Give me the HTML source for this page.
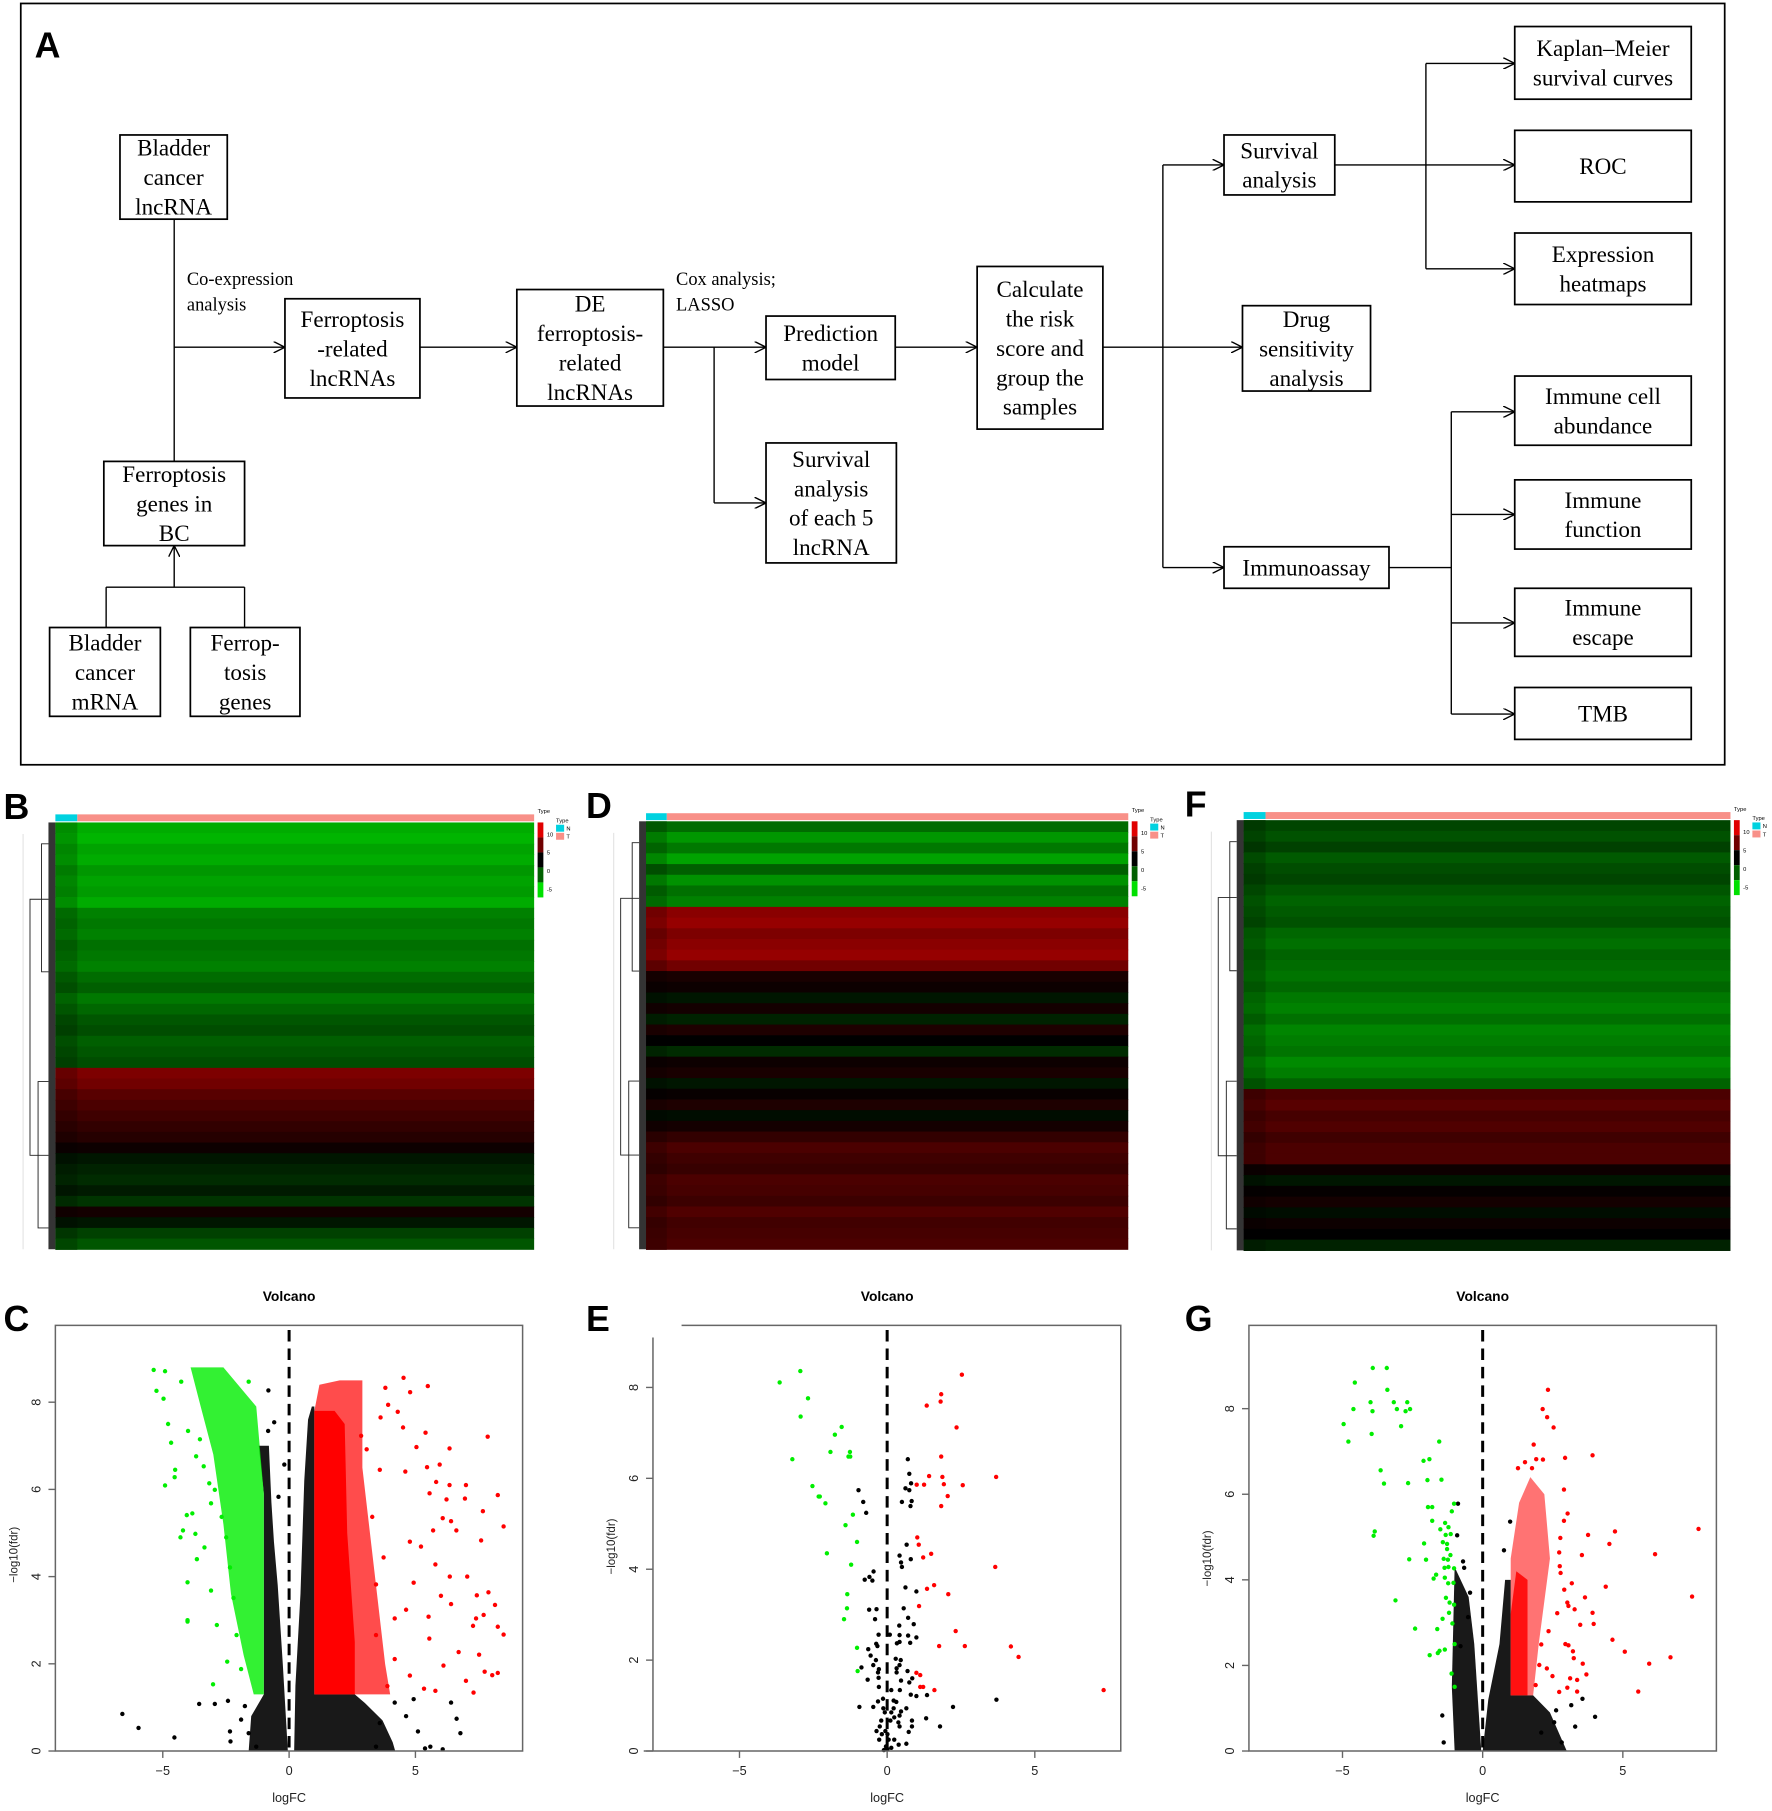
<!DOCTYPE html>
<html><head><meta charset="utf-8">
<style>
html,body{margin:0;padding:0;background:#fff;}
svg{display:block;}
</style></head>
<body>
<svg id="fig" xmlns="http://www.w3.org/2000/svg" width="1772" height="1811" viewBox="0 0 1536 1570" preserveAspectRatio="none">
<defs>
<marker id="arr" viewBox="0 0 10 10" refX="10" refY="5" markerWidth="10" markerHeight="10" markerUnits="userSpaceOnUse" orient="auto">
<path d="M0,0 L10,5 L0,10" fill="none" stroke="#000" stroke-width="1.2"/>
</marker>
</defs>
<rect x="0" y="0" width="1536" height="1570" fill="#fff"/>
<g id="panelA">
<rect x="18" y="3" width="1477" height="660" fill="none" stroke="#000" stroke-width="1.5"/>
</g>
<g id="heat"></g>
<g id="volc"></g>
</svg>
<script>
// ---------- Heatmap data (row mean expression, top to bottom) ----------
const heatB = [-4,-4.2,-3.8,-4,-3.5,-3.8,-3.6,-4,-3,-2.8,-3,-2.6,-2.8,-3,-2.5,-2.2,-2.8,-2.4,-2,-1.8,-2.2,-2,-1.8,5,4.5,3.5,3,2.5,2,1.5,0.5,-0.5,-0.8,-1,-0.6,-1.2,0.8,-0.5,-1.5,-2];
const heatD = [-2.5,-3.5,-2.8,-3.8,-2.2,-3.4,-2.6,-3,5.5,6,5,5.5,6,4.5,1,0.5,-0.5,0.8,-0.8,1.2,0,-1,0.5,1,-0.5,0.3,1.2,-0.3,0.8,2,3,2.5,2.2,3,2.8,2.4,3.2,2.6,2.8,3];
const heatF = [-1.6,-1.9,-1.5,-2.1,-1.8,-1.6,-2,-2.3,-2.1,-1.9,-2.4,-2.6,-2.3,-2.5,-2.7,-2.4,-2.8,-3,-2.6,-3.1,-2.9,-2.7,-3.2,-2.9,-2.3,3,3.5,2.8,3.2,2.5,3,3,0.5,-0.5,0.2,0.8,-0.3,0.5,0,-0.8];
const legendTicks = ["10","5","0","-5"];

// ---------- Volcano data: [logFC, -log10(fdr)] ----------
const cGreenCloud = [[-3.9,8.8],[-2.6,8.8],[-1.3,7.9],[-1.0,5.9],[-1.0,1.3],[-1.4,1.3],[-1.8,2.2],[-2.3,3.6],[-2.6,5.2],[-3.0,6.8],[-3.5,7.9]];
const cRedCore = [[1,7.8],[1,1.3],[2.6,1.3],[2.6,2.5],[2.3,5],[2.2,7.5],[1.8,7.8]];
const cRedCloud = [[1.0,7.8],[1.2,8.4],[2.0,8.5],[2.9,8.5],[2.9,6.5],[3.2,5.0],[3.5,3.5],[3.8,2.0],[4.0,1.3],[1.0,1.3]];
const cBlackLeft = [[-1.2,7.0],[-0.8,7.0],[-0.7,5.7],[-0.6,4.8],[-0.45,3.8],[-0.25,2.0],[-0.05,0],[-1.6,0],[-1.5,0.8],[-1.0,1.3],[-1.0,5.9]];
const cBlackRight = [[0.2,0],[0.25,1.5],[0.45,3.6],[0.6,6.2],[0.75,7.6],[0.9,7.9],[1.0,7.9],[1.0,1.3],[2.6,1.3],[3.0,1.1],[3.7,0.7],[4.1,0.2],[4.2,0]];
const cGreen = [[-5.36,8.74],[-4.91,8.71],[-5.25,8.26],[-4.97,8.08],[-4.79,7.5],[-4.67,7.07],[-4.51,6.45],[-4.53,6.28],[-4.91,6.09],[-4.05,5.41],[-3.83,5.45],[-4.2,5.06],[-3.71,4.98],[-4.3,4.9],[-3.65,4.4],[-3.35,4.67],[-4.02,3.87],[-3.09,3.68],[-4.02,3.0],[-4.02,2.97],[-3.01,1.53],[-2.45,2.05],[-2.86,2.89],[-4.0,7.34],[-3.68,6.76],[-3.38,6.53],[-3.16,6.14],[-2.94,5.99],[-2.67,5.37],[-2.49,4.9],[-2.34,4.21],[-2.2,3.51],[-2.08,2.66],[-1.9,1.88],[-3.09,5.68],[-3.53,7.15],[-4.27,8.47],[-1.6,8.47]];
const cRed = [[3.81,8.33],[4.53,8.56],[4.79,8.23],[5.49,8.37],[3.92,7.94],[4.3,7.78],[3.62,7.65],[4.51,7.42],[5.4,7.3],[7.86,7.21],[5.04,6.97],[6.35,6.94],[5.96,6.57],[5.46,6.51],[4.6,6.41],[5.82,6.17],[7.0,6.1],[6.35,6.1],[5.56,5.91],[8.26,5.87],[6.23,5.77],[6.96,5.79],[7.67,5.5],[6.08,5.34],[6.41,5.27],[8.49,5.15],[6.62,5.06],[5.7,5.06],[7.6,4.83],[4.78,4.8],[5.22,4.69],[5.79,4.28],[7.05,4.0],[6.36,4.0],[4.93,3.86],[7.89,3.64],[7.43,3.57],[6.01,3.56],[8.15,3.35],[4.63,3.24],[6.41,3.37],[5.52,3.08],[7.4,3.04],[7.7,3.12],[7.28,2.87],[8.26,2.85],[8.49,2.67],[5.55,2.58],[6.71,2.27],[7.52,2.21],[7.74,1.82],[8.26,1.79],[8.04,1.74],[7.0,1.61],[7.3,1.34],[6.11,1.96],[5.79,1.38],[5.34,1.43],[4.78,1.73],[4.18,2.11],[3.89,1.49],[3.44,2.66],[4.18,3.04],[3.29,5.37],[3.44,3.82],[2.85,7.23],[3.07,6.92],[3.59,6.45],[3.74,4.44]];
const cBlack = [[-6.6,0.85],[-5.96,0.53],[-4.54,0.31],[-3.56,1.08],[-2.94,1.08],[-2.42,1.15],[-2.34,0.45],[-2.32,0.22],[-0.82,8.27],[-0.59,7.54],[-0.83,7.34],[-0.19,6.57],[-0.42,5.83],[6.41,1.11],[6.63,0.74],[6.78,0.41],[6.08,0.04],[5.59,0.1],[4.93,1.19],[4.63,0.8],[5.1,0.45],[5.38,0.06],[4.18,1.11],[3.59,0.64],[3.44,0.1],[-1.75,1.03],[-1.9,0.72],[-1.6,0.41],[-1.3,0.1]];

const eGreen = [[-2.94,8.36],[-3.64,8.11],[-2.68,7.76],[-2.93,7.36],[-1.54,7.13],[-1.77,6.96],[-1.92,6.58],[-1.26,6.58],[-1.31,6.48],[-1.25,6.48],[-3.21,6.42],[-2.53,5.83],[-2.32,5.6],[-2.28,5.6],[-2.09,5.45],[-1.16,5.2],[-1.41,4.97],[-1.02,4.6],[-2.04,4.35],[-1.22,4.1],[-1.35,3.45],[-1.36,3.14],[-1.46,2.9],[-1.02,2.27],[-1.0,1.76]];
const eRed = [[2.53,8.28],[1.83,7.85],[1.81,7.69],[1.34,7.6],[2.35,7.12],[1.83,6.48],[1.42,6.05],[1.87,6.03],[3.69,6.03],[1.0,5.86],[1.25,5.86],[1.92,5.87],[2.56,5.85],[2.05,5.61],[1.83,5.39],[1.02,4.7],[1.07,4.54],[1.49,4.34],[1.22,4.26],[3.66,4.05],[1.59,3.65],[1.35,3.57],[2.07,3.45],[1.08,3.19],[2.32,2.64],[1.76,2.31],[2.63,2.31],[4.19,2.3],[4.45,2.07],[0.99,1.72],[1.12,1.67],[1.12,1.41],[1.22,1.41],[1.6,1.34],[7.33,1.34]];
const eBlack = [[-0.97,5.74],[-0.81,5.48],[-0.71,5.24],[0.7,6.42],[0.75,6.1],[0.81,5.89],[0.62,5.78],[0.75,5.74],[0.5,5.48],[0.83,5.5],[0.79,5.39],[0.66,4.54],[0.42,4.3],[0.8,4.22],[0.47,4.15],[0.5,4.05],[-0.46,3.95],[-0.6,3.83],[-0.76,3.77],[-0.5,3.75],[0.62,3.6],[0.99,3.51],[0.56,3.14],[-0.61,3.11],[-0.36,3.12],[-0.41,2.9],[0.71,2.93],[0.9,2.79],[0.41,2.76],[-0.29,2.56],[0.09,2.56],[0.42,2.55],[0.71,2.54],[0.99,2.5],[-0.37,2.36],[0.33,2.37],[0.42,2.4],[0.78,2.38],[-0.33,2.31],[-0.64,2.24],[-0.56,2.1],[-0.38,2.0],[0.29,2.03],[0.46,2.0],[-0.47,1.89],[-0.87,1.84],[0.42,1.89],[-0.28,1.8],[0.32,1.82],[0.69,1.76],[-0.31,1.73],[0.32,1.73],[-0.29,1.61],[-0.66,1.57],[0.47,1.55],[0.85,1.6],[0.75,1.51],[-0.28,1.41],[0.14,1.34],[0.43,1.34],[1.35,1.23],[0.8,1.24],[0.99,1.21],[-0.14,1.15],[0.22,1.11],[0.31,1.08],[-0.31,1.09],[2.23,0.97],[3.7,1.13],[-0.94,0.97],[-0.47,0.97],[-0.13,0.94],[0.22,0.94],[0.65,0.94],[-0.08,0.85],[0.14,0.85],[0.47,0.87],[0.42,0.78],[1.32,0.72],[0.24,0.74],[-0.2,0.67],[0.11,0.67],[0.84,0.67],[0.38,0.63],[1.79,0.54],[-0.25,0.54],[0.42,0.54],[0.84,0.54],[-0.36,0.44],[-0.06,0.44],[0.73,0.42],[-0.18,0.37],[0.01,0.37],[-0.27,0.25],[0.05,0.25],[0.24,0.25],[0.65,0.16],[0.39,0.14],[-0.04,0.1],[0.14,0.07],[0.01,0.04],[-0.11,0.02]];

const gGreen = [[-3.92,8.95],[-3.42,8.95],[-4.56,8.61],[-3.4,8.44],[-4.0,8.15],[-3.17,8.15],[-2.69,8.15],[-4.61,7.99],[-3.93,7.94],[-3.06,7.99],[-2.75,7.94],[-2.59,7.99],[-4.96,7.64],[-2.91,7.59],[-3.96,7.41],[-4.79,7.23],[-1.55,7.23],[-2.11,6.78],[-1.9,6.82],[-3.64,6.56],[-3.52,6.25],[-2.66,6.26],[-1.97,6.33],[-1.47,6.34],[-1.95,5.7],[-1.8,5.7],[-1.02,5.78],[-1.1,5.6],[-1.8,5.38],[-1.34,5.33],[-1.22,5.23],[-1.51,5.18],[-3.85,5.13],[-3.89,5.03],[-1.32,5.05],[-1.14,5.07],[-2.09,4.85],[-1.42,4.88],[-1.27,4.84],[-1.27,4.72],[-1.15,4.58],[-2.62,4.48],[-2.02,4.47],[-1.39,4.49],[-1.24,4.47],[-1.36,4.28],[-1.22,4.3],[-1.02,4.27],[-1.75,4.03],[-1.66,4.12],[-1.35,4.05],[-1.23,3.92],[-1.04,3.93],[-3.11,3.52],[-1.31,3.58],[-1.18,3.47],[-1.02,3.42],[-1.2,3.23],[-1.43,3.09],[-1.08,2.98],[-2.41,2.86],[-1.62,2.85],[-1.0,2.5],[-1.35,2.37],[-1.54,2.34],[-1.6,2.29],[-1.89,2.24],[-1.11,1.81],[-1.0,1.5]];
const gRedCloud = [[1.0,1.3],[1.0,4.5],[1.3,5.8],[1.7,6.4],[2.2,6.0],[2.4,4.5],[2.0,2.5],[1.8,1.3]];
const gRedCore = [[1.0,1.3],[1.0,3.2],[1.2,4.2],[1.6,4.0],[1.6,1.3]];
const gRed = [[2.33,8.44],[2.14,7.99],[2.3,7.8],[2.53,7.56],[1.82,7.16],[3.92,6.91],[2.94,6.85],[1.91,6.82],[2.15,6.81],[1.26,6.61],[1.51,6.75],[1.76,6.61],[2.9,6.11],[3.03,5.55],[2.9,5.38],[3.76,5.05],[4.72,5.13],[7.7,5.19],[2.77,4.98],[4.52,4.84],[6.15,4.6],[3.54,4.58],[2.73,4.64],[2.75,4.32],[2.78,4.16],[3.18,3.92],[4.39,3.84],[3.65,3.59],[7.47,3.61],[2.91,3.77],[3.02,3.47],[3.06,3.39],[3.28,3.31],[2.66,3.22],[3.92,3.23],[3.96,2.97],[3.48,2.95],[4.63,2.6],[2.95,2.5],[3.06,2.47],[3.22,2.33],[5.07,2.32],[6.7,2.19],[5.94,2.04],[3.25,2.17],[3.57,2.04],[3.7,1.79],[3.12,1.7],[3.37,1.66],[3.02,1.48],[3.37,1.39],[5.55,1.39],[2.73,1.38],[2.49,1.75],[2.29,1.93],[2.09,2.49],[2.35,2.8],[2.02,2.01],[1.89,1.54]];
const gBlackLeft = [[-1.0,4.3],[-0.5,3.6],[-0.3,2.5],[-0.05,0],[-1.0,0],[-1.1,1.5]];
const gBlackRight = [[0,0],[0.2,1.2],[0.6,2.5],[0.8,4.0],[1.0,4.0],[1.0,1.3],[1.8,1.3],[2.4,0.9],[3.0,0]];
const gBlack = [[-0.88,5.78],[0.98,5.36],[-0.91,5.04],[0.76,4.69],[-0.7,4.43],[-0.66,4.28],[4.01,0.8],[3.3,0.57],[3.56,1.22],[3.16,1.07],[-1.44,0.83],[-1.39,0.2],[-0.45,3.7],[-0.52,3.13],[-0.79,2.45],[2.82,0.2],[2.55,0.67],[2.09,0.43],[2.62,0.95]];
const xTicks = [-5,0,5];
const yTicks = [0,2,4,6,8];

const NS = "http://www.w3.org/2000/svg";
function mk(tag, attrs, parent) {
  const el = document.createElementNS(NS, tag);
  for (const k in attrs) el.setAttribute(k, attrs[k]);
  parent.appendChild(el);
  return el;
}

// ---------- Flowchart ----------
const A = document.getElementById('panelA');
const letterA = mk('text', {x:30, y:50, 'font-family':'Liberation Sans, sans-serif', 'font-weight':'bold', 'font-size':31}, A);
letterA.textContent = 'A';



const boxes = [
  ['bladder-lncrna-box',104,117,197,190,['Bladder','cancer','lncRNA']],
  ['ferroptosis-genes-bc-box',90,400,212,473,['Ferroptosis','genes in','BC']],
  ['bladder-mrna-box',43,544,139,621,['Bladder','cancer','mRNA']],
  ['ferroptosis-genes-box',165,544,260,621,['Ferrop-','tosis','genes']],
  ['ferroptosis-lncrnas-box',247,259,364,345,['Ferroptosis','-related','lncRNAs']],
  ['de-lncrnas-box',448,251,575,352,['DE','ferroptosis-','related','lncRNAs']],
  ['prediction-model-box',664,274,776,329,['Prediction','model']],
  ['survival-each-box',664,384,777,488,['Survival','analysis','of each 5','lncRNA']],
  ['risk-score-box',847,231,956,372,['Calculate','the risk','score and','group the','samples']],
  ['survival-analysis-box',1061,117,1157,169,['Survival','analysis']],
  ['drug-sensitivity-box',1077,265,1188,339,['Drug','sensitivity','analysis']],
  ['immunoassay-box',1061,474,1204,510,['Immunoassay']],
  ['kaplan-meier-box',1313,23,1466,86,['Kaplan\u2013Meier','survival curves']],
  ['roc-box',1313,113,1466,175,['ROC']],
  ['expression-heatmaps-box',1313,202,1466,264,['Expression','heatmaps']],
  ['immune-cell-box',1313,326,1466,386,['Immune cell','abundance']],
  ['immune-function-box',1313,416,1466,476,['Immune','function']],
  ['immune-escape-box',1313,510,1466,569,['Immune','escape']],
  ['tmb-box',1313,596,1466,641,['TMB']]
];
boxes.forEach(b => {
  const g = mk('g', {}, A);
  
  
  mk('rect', {x:b[1], y:b[2], width:b[3]-b[1], height:b[4]-b[2], fill:'#fff', stroke:'#000', 'stroke-width':1.5}, g);
  const cx = (b[1]+b[3])/2, cy = (b[2]+b[4])/2, n = b[5].length, lh = 25.5;
  b[5].forEach((ln, i) => {
    const t = mk('text', {x:cx, y:cy - (n-1)*lh/2 + i*lh + 7, 'text-anchor':'middle', 'font-family':'Liberation Serif, serif', 'font-size':20}, g);
    t.textContent = ln;
  });
});
const labels = [['co-expression-label',162,247,'Co-expression'],['co-expression-label-2',162,269,'analysis'],['cox-label',586,247,'Cox analysis;'],['lasso-label',586,269,'LASSO']];
labels.forEach(l => {
  const t = mk('text', {x:l[1], y:l[2], 'font-family':'Liberation Serif, serif', 'font-size':16}, A);
  t.textContent = l[3];
  
  
});
const conns = [
  [151,190,151,400,0],[151,301,247,301,1],[151,509,151,473,1],[92,509,212,509,0],[92,509,92,544,0],[212,509,212,544,0],
  [364,301,448,301,1],[575,301,664,301,1],[619,301,619,436,0],[619,436,664,436,1],[776,301,847,301,1],
  [956,301,1077,301,1],[1008,143,1008,492,0],[1008,143,1061,143,1],[1008,492,1061,492,1],
  [1157,143,1313,143,1],[1236,55,1236,233,0],[1236,55,1313,55,1],[1236,233,1313,233,1],
  [1204,492,1258,492,0],[1258,357,1258,619,0],[1258,357,1313,357,1],[1258,446,1313,446,1],[1258,540,1313,540,1],[1258,619,1313,619,1]
];
conns.forEach(c => {
  const l = mk('line', {x1:c[0], y1:c[1], x2:c[2], y2:c[3], stroke:'#000', 'stroke-width':1.2}, A);
  if (c[4]) l.setAttribute('marker-end', 'url(#arr)');
  
  
});

// ---------- Heatmaps ----------
const H = document.getElementById('heat');
function heatColor(v) {
  if (v < 0) { const g = Math.round(Math.min(1, -v/5) * 215); return 'rgb(0,' + g + ',0)'; }
  const r = Math.round(Math.min(1, v/8) * 200); return 'rgb(' + r + ',0,0)';
}
function heatmap(name, letter, lx, x0, x1, y0, y1, nEnd, rows) {
  const g = mk('g', {}, H);
  
  
  const t = mk('text', {x:lx, y:y0 - 3, 'font-family':'Liberation Sans, sans-serif', 'font-weight':'bold', 'font-size':31}, g);
  t.textContent = letter;
  
  
  const nb = mk('rect', {x:x0, y:y0-7, width:nEnd-x0, height:6, fill:'#00d2e0'}, g);
  
  
  const tb = mk('rect', {x:nEnd, y:y0-7, width:x1-nEnd, height:6, fill:'#f89088'}, g);
  
  
  const rh = (y1-y0)/rows.length;
  rows.forEach((v, i) => {
    const r = mk('rect', {x:x0, y:y0+i*rh, width:x1-x0, height:rh+0.5, fill:heatColor(v)}, g);
    
    
    const rn = mk('rect', {x:x0, y:y0+i*rh, width:nEnd-x0, height:rh+0.5, fill:heatColor(v*0.8), opacity:0.9}, g);
    
    
  });
  const d = mk('g', {stroke:'#222', 'stroke-width':0.8, fill:'none'}, g);
  
  
  mk('rect', {x:x0-6, y:y0, width:6, height:y1-y0, fill:'#111', stroke:'none', opacity:0.85}, d);
  const mid = y0 + (y1-y0)*0.58;
  mk('path', {d:'M'+(x0-6)+','+(y0+(y1-y0)*0.18)+' H'+(x0-22)+' V'+(y0+(y1-y0)*0.78)+' H'+(x0-6)}, d);
  mk('path', {d:'M'+(x0-6)+','+(y0+(y1-y0)*0.05)+' H'+(x0-12)+' V'+(y0+(y1-y0)*0.35)+' H'+(x0-6)}, d);
  mk('path', {d:'M'+(x0-6)+','+(mid+10)+' H'+(x0-15)+' V'+(y0+(y1-y0)*0.95)+' H'+(x0-6)}, d);
  mk('line', {x1:x0-28, y1:y0+10, x2:x0-28, y2:y1, stroke:'#ddd'}, d);
  const lg = mk('g', {}, g);
  
  
  const lx0 = x1 + 3;
  ['#e00000','#700000','#000','#006000','#00e000'].forEach((c, i) => {
    mk('rect', {x:lx0, y:y0+i*13, width:5, height:13, fill:c}, lg);
  });
  legendTicks.forEach((s, i) => {
    const tt = mk('text', {x:lx0+8, y:y0+12+i*16, 'font-family':'Liberation Sans, sans-serif', 'font-size':5}, lg);
    tt.textContent = s;
  });
  const ty = mk('text', {x:lx0, y:y0-8, 'font-family':'Liberation Sans, sans-serif', 'font-size':5}, lg);
  ty.textContent = 'Type';
  const ty2 = mk('text', {x:lx0+16, y:y0, 'font-family':'Liberation Sans, sans-serif', 'font-size':5}, lg);
  ty2.textContent = 'Type';
  mk('rect', {x:lx0+16, y:y0+2, width:7, height:6, fill:'#00d2e0'}, lg);
  mk('rect', {x:lx0+16, y:y0+9, width:7, height:6, fill:'#f89088'}, lg);
  const tn = mk('text', {x:lx0+25, y:y0+7, 'font-family':'Liberation Sans, sans-serif', 'font-size':5}, lg);
  tn.textContent = 'N';
  const tt2 = mk('text', {x:lx0+25, y:y0+14, 'font-family':'Liberation Sans, sans-serif', 'font-size':5}, lg);
  tt2.textContent = 'T';
}
heatmap('heatmap-b', 'B', 3, 48, 463, 713, 1083, 67, heatB);
heatmap('heatmap-d', 'D', 508, 560, 978, 712, 1083, 578, heatD);
heatmap('heatmap-f', 'F', 1027, 1078, 1500, 711, 1084, 1097, heatF);

// ---------- Volcano plots ----------
const V = document.getElementById('volc');
function volcano(cfg) {
  const g = mk('g', {}, V);
  
  
  const sx = v => cfg.x0 + v*cfg.kx;
  const sy = v => cfg.yb - v*cfg.ky;
  const lt = mk('text', {x:cfg.lx, y:1154, 'font-family':'Liberation Sans, sans-serif', 'font-weight':'bold', 'font-size':31}, g);
  lt.textContent = cfg.letter;
  
  
  const title = mk('text', {x:sx(0), y:1128, 'text-anchor':'middle', 'font-family':'Liberation Sans, sans-serif', 'font-weight':'bold', 'font-size':12}, g);
  title.textContent = 'Volcano';
  
  
  const poly = (pts, fill, op, nm) => {
    const p = mk('polygon', {points: pts.map(q => sx(q[0]) + ',' + sy(q[1])).join(' '), fill:fill, 'fill-opacity':op}, g);
    
    
  };
  (cfg.blackClouds||[]).forEach(c => poly(c, '#000', 0.9, 'dense-black-points'));
  (cfg.greenClouds||[]).forEach(c => poly(c, '#00ee00', 0.8, 'dense-green-points'));
  (cfg.redClouds||[]).forEach(c => poly(c[0], '#ff0000', c[1], 'dense-red-points'));
  const pts = (arr, col, nm) => arr.forEach(q => {
    const c = mk('circle', {cx:sx(q[0]), cy:sy(q[1]), r:1.9, fill:col}, g);
    
    
  });
  pts(cfg.black, '#000', 'point-not-significant');
  pts(cfg.green, '#00ee00', 'point-down');
  pts(cfg.red, '#ff0000', 'point-up');
  const dl = mk('line', {x1:sx(0), y1:cfg.top+4, x2:sx(0), y2:cfg.yb, stroke:'#000', 'stroke-width':2.6, 'stroke-dasharray':'10,6'}, g);
  
  
  const fr = mk('path', {d:cfg.frame, fill:'none', stroke:'#666', 'stroke-width':1.3}, g);
  
  
  const xa = mk('g', {}, g);
  
  
  xTicks.forEach(v => {
    mk('line', {x1:sx(v), y1:cfg.yb, x2:sx(v), y2:cfg.yb+6, stroke:'#666', 'stroke-width':1.2}, xa);
    const t = mk('text', {x:sx(v), y:cfg.yb+21, 'text-anchor':'middle', 'font-family':'Liberation Sans, sans-serif', 'font-size':11, fill:'#222'}, xa);
    t.textContent = v === -5 ? '\u22125' : String(v);
  });
  const xl = mk('text', {x:sx(0), y:1562, 'text-anchor':'middle', 'font-family':'Liberation Sans, sans-serif', 'font-size':11, fill:'#222'}, g);
  xl.textContent = 'logFC';
  
  
  const ya = mk('g', {}, g);
  
  
  yTicks.forEach(v => {
    mk('line', {x1:cfg.yax-6, y1:sy(v), x2:cfg.yax, y2:sy(v), stroke:'#666', 'stroke-width':1.2}, ya);
    const tx = cfg.yax - 13, ty = sy(v);
    const t = mk('text', {x:tx, y:ty, 'text-anchor':'middle', 'font-family':'Liberation Sans, sans-serif', 'font-size':11, fill:'#222', transform:'rotate(-90 '+tx+' '+ty+')'}, ya);
    t.textContent = String(v);
  });
  const yx = cfg.yax - 33, yy = sy(4.5);
  const yl = mk('text', {x:yx, y:yy, 'text-anchor':'middle', 'font-family':'Liberation Sans, sans-serif', 'font-size':10, fill:'#222', transform:'rotate(-90 '+yx+' '+yy+')'}, g);
  yl.textContent = '\u2212log10(fdr)';
  
  
}
volcano({name:'volcano-c', letter:'C', lx:3, x0:250.6, kx:21.9, yb:1518, ky:37.8, top:1149, yax:48,
  frame:'M48,1149 H453 V1518 H48 Z',
  blackClouds:[cBlackLeft, cBlackRight], greenClouds:[cGreenCloud], redClouds:[[cRedCloud,0.7],[cRedCore,1]],
  black:cBlack, green:cGreen, red:cRed});
volcano({name:'volcano-e', letter:'E', lx:508, x0:769, kx:25.6, yb:1518, ky:39.4, top:1149, yax:566,
  frame:'M590.8,1149 H971.5 V1518 H558 M566,1159.5 V1518',
  black:eBlack, green:eGreen, red:eRed});
volcano({name:'volcano-g', letter:'G', lx:1027, x0:1285.2, kx:24.3, yb:1518, ky:37.1, top:1149, yax:1082.6,
  frame:'M1082.6,1149 H1487.8 V1518 H1082.6 Z',
  blackClouds:[gBlackLeft, gBlackRight], redClouds:[[gRedCloud,0.55],[gRedCore,0.85]],
  black:gBlack, green:gGreen, red:gRed});
</script>
</body></html>
